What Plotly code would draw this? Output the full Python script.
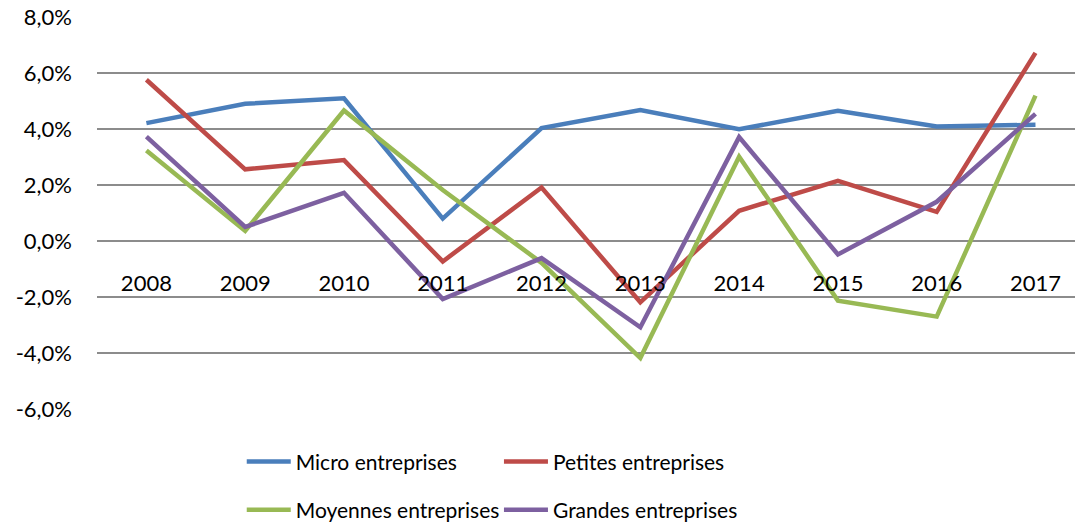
import plotly.graph_objects as go

years = ["2008", "2009", "2010", "2011", "2012", "2013", "2014", "2015", "2016", "2017"]

micro = [4.21, 4.90, 5.10, 0.80, 4.03, 4.68, 3.99, 4.65, 4.09, 4.15]
petites = [5.76, 2.56, 2.89, -0.73, 1.91, -2.19, 1.08, 2.15, 1.04, 6.72]
moyennes = [3.23, 0.36, 4.66, 1.82, -0.78, -4.18, 3.01, -2.13, -2.70, 5.19]
grandes = [3.73, 0.50, 1.72, -2.07, -0.61, -3.08, 3.71, -0.48, 1.40, 4.54]

y_ticks = [-6, -4, -2, 0, 2, 4, 6, 8]
y_labels = [f"{v:.1f}%".replace(".", ",") for v in y_ticks]

series = [
    ("Micro entreprises", micro, "#4A7EBB", "legend"),
    ("Petites entreprises", petites, "#BE4B48", "legend2"),
    ("Moyennes entreprises", moyennes, "#98B954", "legend"),
    ("Grandes entreprises", grandes, "#7D60A0", "legend2"),
]

FONT = "Lato, 'Open Sans', sans-serif"

fig = go.Figure()
for name, vals, color, leg in series:
    fig.add_trace(
        go.Scatter(
            x=years,
            y=vals,
            name=name,
            mode="lines",
            line=dict(color=color, width=4.5),
            legend=leg,
            legendgroup=name,
        )
    )

legend_style = dict(
    yanchor="top",
    xanchor="left",
    orientation="v",
    tracegroupgap=18,
    itemwidth=44,
    font=dict(family=FONT, size=21, color="#000000"),
    bgcolor="rgba(0,0,0,0)",
)

fig.update_layout(
    width=1075,
    height=524,
    margin=dict(l=97, r=0, t=17, b=115, autoexpand=False),
    paper_bgcolor="white",
    plot_bgcolor="white",
    font=dict(family=FONT, size=22, color="#000000"),
    showlegend=True,
    legend=dict(x=0.148, y=-0.0825, **legend_style),
    legend2=dict(x=0.411, y=-0.0825, **legend_style),
    xaxis=dict(
        type="category",
        range=[-0.5, 9.4],
        anchor="free",
        position=(408.7 - 240.7) / 391.4,
        automargin=False,
        showgrid=False,
        zeroline=False,
        showline=False,
        ticks="",
        tickangle=0,
        ticklabelstandoff=27,
        tickfont=dict(family=FONT, size=22, color="#000000"),
    ),
    yaxis=dict(
        range=[-6, 8],
        tickvals=y_ticks,
        ticktext=y_labels,
        automargin=False,
        showgrid=True,
        gridcolor="#8C8C8C",
        gridwidth=1.5,
        zeroline=False,
        showline=False,
        ticks="",
        ticklabelstandoff=24,
        tickfont=dict(family=FONT, size=22, color="#000000"),
    ),
)

fig.write_html(
    "out.html",
    config={"displayModeBar": False},
    post_script="document.body.style.margin = '0';",
)
